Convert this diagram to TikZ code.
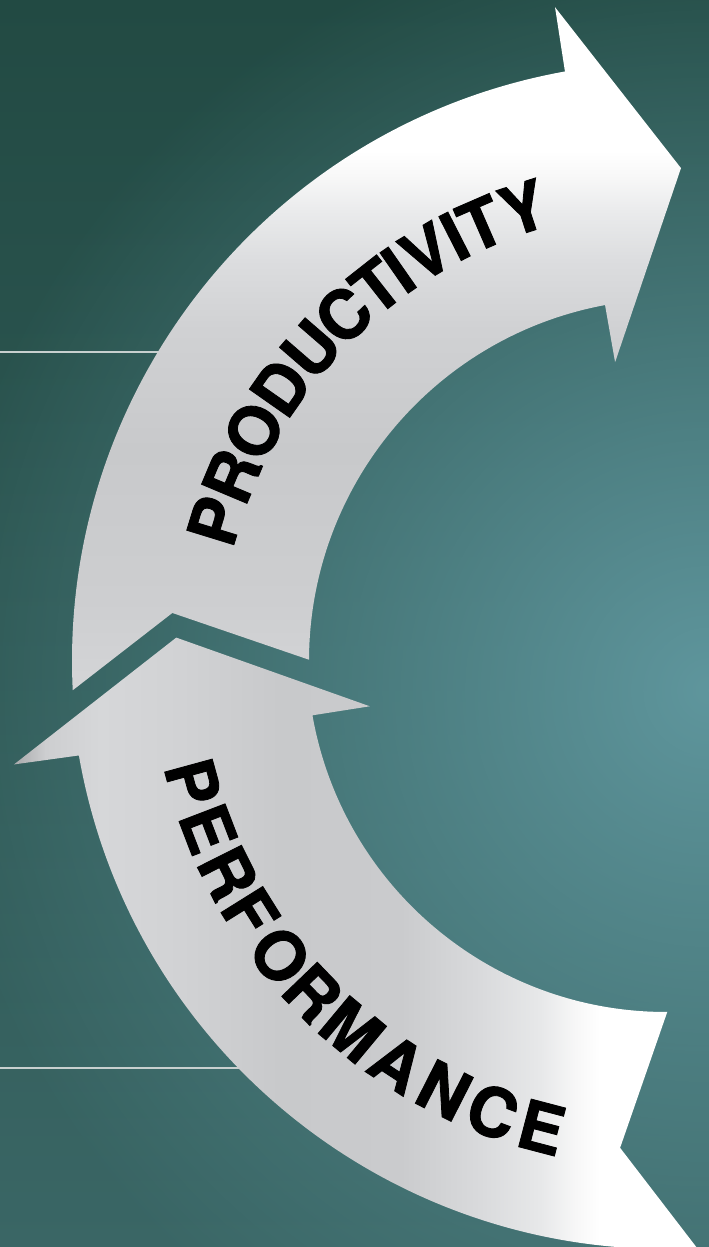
\documentclass[tikz,border=0pt]{standalone}
\usepackage{fontspec}
\newfontfamily\labelfont{TeX Gyre Heros}[BoldFeatures={FakeBold=1.2}]
\usetikzlibrary{fadings}
\tikzfading[name=glowfade, inner color=transparent!0, outer color=transparent!100]
\definecolor{bgtop}{HTML}{224A43}
\definecolor{bgmid}{HTML}{36625F}
\definecolor{bgbot}{HTML}{3A6665}
\definecolor{glow}{HTML}{5F969D}
\definecolor{rulecol}{HTML}{C8D0CF}
% silver colours, upper arrow
\definecolor{su1}{HTML}{D4D5D7}
\definecolor{su2}{HTML}{CDCED0}
\definecolor{su3}{HTML}{C8C9CB}
\definecolor{su4}{HTML}{D0D1D3}
\definecolor{su5}{HTML}{DCDDDF}
\definecolor{su6}{HTML}{EAEBEC}
\definecolor{su7}{HTML}{F8F8F8}
% silver colours, lower arrow
\definecolor{sl0}{HTML}{A9AAAC}
\definecolor{sl1}{HTML}{CDCED0}
\definecolor{sl2}{HTML}{D6D7D9}
\definecolor{sl3}{HTML}{D1D2D4}
\definecolor{sl4}{HTML}{C8C9CB}
\definecolor{sl5}{HTML}{CACBCD}
\definecolor{sl6}{HTML}{D9DADC}
\definecolor{sl7}{HTML}{E7E8E9}
\definecolor{sl8}{HTML}{F7F7F7}
\pgfdeclareverticalshading{silverup}{100bp}{color(0bp)=(su1); color(25bp)=(su1); color(31.6bp)=(su2); color(42.6bp)=(su3); color(51.4bp)=(su4); color(56.5bp)=(su5); color(60.1bp)=(su6); color(62.7bp)=(su7); color(64.5bp)=(white); color(100bp)=(white)}
\pgfdeclarehorizontalshading{silverlow}{100bp}{color(0bp)=(sl0); color(25bp)=(sl0); color(27.3bp)=(sl1); color(31.3bp)=(sl2); color(37.2bp)=(sl3); color(44.5bp)=(sl4); color(53.3bp)=(sl5); color(59.1bp)=(sl6); color(63.5bp)=(sl7); color(66.1bp)=(sl8); color(67.9bp)=(white); color(100bp)=(white)}
\tikzset{
  hrule/.style={draw=rulecol, line width=1.2pt},
  upperarrow/.style={shading=silverup},
  lowerarrow/.style={shading=silverlow},
  letter/.style={anchor=base, inner sep=0pt, text=black,
    font=\labelfont\bfseries\fontsize{38.5}{42}\selectfont}
}
\begin{document}
\begin{tikzpicture}[x=0.02cm, y=0.02cm]
\useasboundingbox (0,0) rectangle (709,1247);
\clip (0,0) rectangle (709,1247);
% background
\shade[top color=bgtop, middle color=bgmid, bottom color=bgbot] (0,0) rectangle (709,1247);
\fill[glow, path fading=glowfade] (709,557) circle (780);
% thin rules
\coordinate (r1a) at (0,895);
\coordinate (r1b) at (300,895);
\coordinate (r2a) at (0,179);
\coordinate (r2b) at (350,179);
\draw[hrule] (r1a) -- (r1b);
\draw[hrule] (r2a) -- (r2b);
% upper arrow
\begin{scope}[shift={(671,586)}]
  \shade[upperarrow] (182.8:599) arc[start angle=182.8, end angle=100.2, radius=599]
    -- (100.06:664) -- (88.84:493) -- (100.6:304) -- (100.5:362)
    arc[start angle=100.5, end angle=179.8, radius=362]
    -- (174.5:501) -- cycle;
  \foreach \ch/\ang [count=\i] in {P/162.9, R/157.2, O/151.1, D/145.0, U/139.1, C/133.4, T/128.2, I/124.9, V/120.9, I/117.0, T/113.5, Y/108.1}
    \node[letter, rotate={\ang-90}] (u\i) at (\ang:452) {\ch};
\end{scope}
% lower arrow
\begin{scope}[shift={(666,594)}]
  \shade[lowerarrow] (189.9:596) -- (189.7:661.5) -- (178.2:490) -- (190.2:301) -- (190:359)
    arc[start angle=190, end angle=270.2, radius=359]
    -- (264.7:497) -- (273:596)
    arc[start angle=273, end angle=189.9, radius=596] -- cycle;
  \foreach \ch/\ang [count=\i] in {P/195.3, E/201.0, R/206.7, F/212.0, O/218.1, R/223.9, M/230.2, A/236.8, N/243.1, C/249.3, E/255.3}
    \node[letter, rotate={\ang+90}] (l\i) at (\ang:515) {\ch};
\end{scope}
\end{tikzpicture}
\end{document}
